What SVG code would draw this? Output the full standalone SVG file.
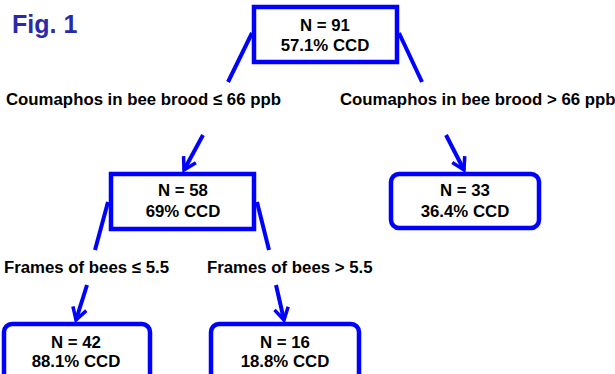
<svg xmlns="http://www.w3.org/2000/svg" width="615" height="374" viewBox="0 0 615 374">
<style>
.box{fill:#fff;stroke:#0000ff;stroke-width:4.5}
.t{font-family:"Liberation Sans",Arial,sans-serif;font-weight:bold;font-size:16.8px;fill:#000}
.c{text-anchor:middle}
.ln{stroke:#0000ff;stroke-width:4;fill:none}
.fig{font-family:"Liberation Sans",Arial,sans-serif;font-weight:bold;font-size:25px;fill:#2a2aa8}
</style>
<defs>
<marker id="ah" markerUnits="userSpaceOnUse" orient="auto" refX="0" refY="0" markerWidth="20" markerHeight="20" viewBox="-15 -10 20 20" overflow="visible">
<path d="M-12,-7 L0,0 L-12,7" fill="none" stroke="#0000ff" stroke-width="3.5"/>
</marker>
</defs>
<rect width="615" height="374" fill="#fff"/>
<text class="fig" x="12" y="33">Fig. 1</text>
<g id="connectors">
<line class="ln" x1="252" y1="33" x2="228" y2="82"/>
<line class="ln" x1="399" y1="33" x2="422" y2="82"/>
<line class="ln" x1="203" y1="135" x2="184" y2="170" marker-end="url(#ah)"/>
<line class="ln" x1="446" y1="135" x2="464" y2="170" marker-end="url(#ah)"/>
<line class="ln" x1="108" y1="202" x2="95" y2="250"/>
<line class="ln" x1="257" y1="202" x2="269" y2="250"/>
<line class="ln" x1="87" y1="285" x2="76" y2="320" marker-end="url(#ah)"/>
<line class="ln" x1="276" y1="285" x2="284" y2="320" marker-end="url(#ah)"/>
</g>
<g id="labels">
<text class="t" x="6" y="105">Coumaphos in bee brood ≤ 66 ppb</text>
<text class="t" x="340" y="105">Coumaphos in bee brood &gt; 66 ppb</text>
<text class="t" x="4" y="273">Frames of bees ≤ 5.5</text>
<text class="t" x="207" y="273">Frames of bees &gt; 5.5</text>
</g>
<g id="n91">
<rect class="box" x="254" y="7" width="143" height="55"/>
<text class="t c" x="325" y="31">N = 91</text>
<text class="t c" x="325" y="51">57.1% CCD</text>
</g>
<g id="n58">
<rect class="box" x="111" y="174" width="143" height="55"/>
<text class="t c" x="183" y="196">N = 58</text>
<text class="t c" x="183" y="217">69% CCD</text>
</g>
<g id="n33">
<rect class="box" x="391" y="174" width="148" height="54" rx="8"/>
<text class="t c" x="465" y="196">N = 33</text>
<text class="t c" x="465" y="217">36.4% CCD</text>
</g>
<g id="n42">
<rect class="box" x="4" y="324" width="146" height="60" rx="8"/>
<text class="t c" x="76" y="348">N = 42</text>
<text class="t c" x="76" y="367">88.1% CCD</text>
</g>
<g id="n16">
<rect class="box" x="211" y="324" width="148" height="60" rx="8"/>
<text class="t c" x="285" y="348">N = 16</text>
<text class="t c" x="285" y="367">18.8% CCD</text>
</g>
</svg>
